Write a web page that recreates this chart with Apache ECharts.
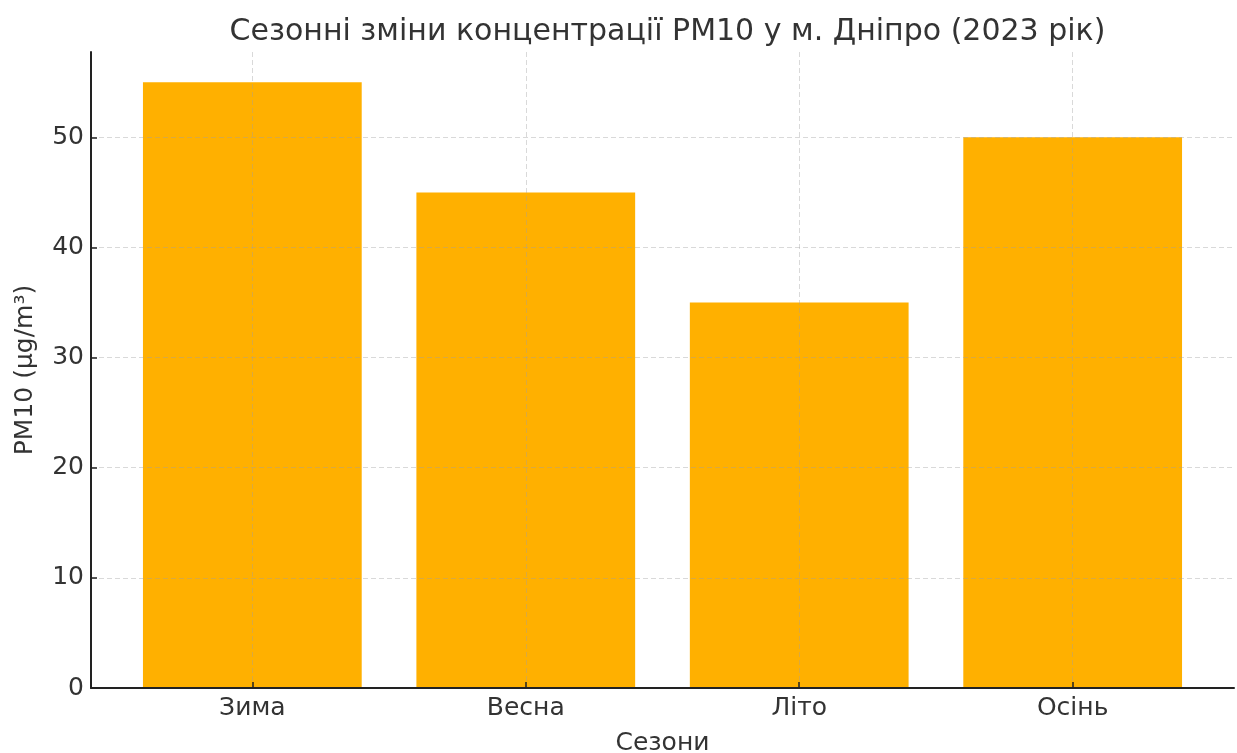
<!DOCTYPE html>
<html lang="uk">
<head>
    <meta charset="UTF-8">
    <title>PM10 Дніпро</title>
</head>
<body style="margin:0">
<div id="main" style="height: 753px;width: 1237px"></div>
</body>
<script src="https://cdn.jsdelivr.net/npm/echarts@6.0.0/dist/echarts.min.js"></script>
<script>
    // дані
    var seasons = ['Зима', 'Весна', 'Літо', 'Осінь'];
    var pm10 = [55, 45, 35, 50];
    var yTicks = [0, 10, 20, 30, 40, 50];

    var xMin = -0.59, xMax = 3.59;
    var gridLeft = 91, gridRight = 3;

    function initEcharts() {
        var myChart = echarts.init(document.getElementById('main'));
        var plotWidth = 1237 - gridLeft - gridRight;
        var barWidth = 0.8 * plotWidth / (xMax - xMin);
        var font = 'DejaVu Sans';
        var grid = { lineStyle: { color: 'rgba(160,160,160,0.4)', type: [5, 3], width: 1 } };

        var option = {
            textStyle: { fontFamily: font },
            title: {
                text: 'Сезонні зміни концентрації PM10 у м. Дніпро (2023 рік)',
                left: gridLeft + plotWidth / 2,
                textAlign: 'center',
                top: 12,
                textStyle: { fontFamily: font, fontSize: 30, fontWeight: 'normal', color: '#333' }
            },
            grid: { left: gridLeft, right: gridRight, top: 52, bottom: 65, containLabel: false, outerBoundsMode: 'none' },
            xAxis: {
                type: 'value',
                min: xMin,
                max: xMax,
                z: 3,
                name: 'Сезони',
                nameLocation: 'middle',
                nameGap: 43,
                nameTextStyle: { fontFamily: font, fontSize: 25, color: '#333' },
                axisLine: { onZero: false, lineStyle: { color: '#222', width: 2 } },
                axisTick: { show: true, inside: true, length: 6, customValues: [0, 1, 2, 3], lineStyle: { color: '#222', width: 1.5 } },
                axisLabel: {
                    customValues: [0, 1, 2, 3],
                    formatter: function (v) { return seasons[Math.round(v)]; },
                    fontFamily: font, fontSize: 25, color: '#333', margin: 8
                },
                splitLine: { show: true, lineStyle: grid.lineStyle }
            },
            yAxis: {
                type: 'value',
                min: 0,
                max: 57.75,
                z: 3,
                name: 'PM10 (μg/m³)',
                nameLocation: 'middle',
                nameGap: 53,
                nameTextStyle: { fontFamily: font, fontSize: 25, color: '#333' },
                axisLine: { show: true, onZero: false, lineStyle: { color: '#222', width: 2 } },
                axisTick: { show: true, inside: true, length: 6, customValues: yTicks, lineStyle: { color: '#222', width: 1.5 } },
                axisLabel: { customValues: yTicks, fontFamily: font, fontSize: 25, color: '#333', margin: 7 },
                splitLine: { show: true, lineStyle: grid.lineStyle }
            },
            series: [{
                type: 'bar',
                barWidth: barWidth,
                data: pm10.map(function (v, i) { return [i, v]; }),
                itemStyle: { color: '#FFB000' }
            }]
        };

        myChart.setOption(option);
    }

    initEcharts();
</script>
</html>
